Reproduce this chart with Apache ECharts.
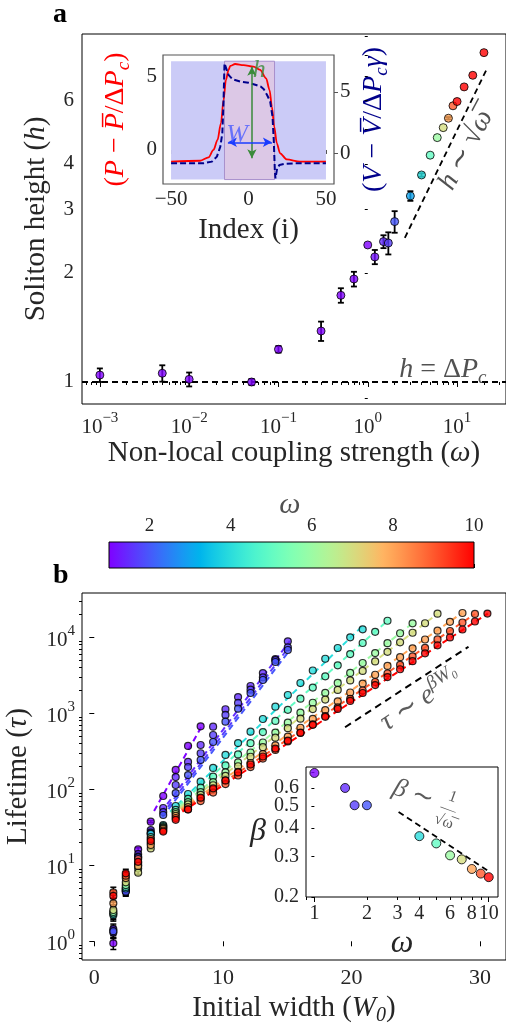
<!DOCTYPE html>
<html>
<head>
<meta charset="utf-8">
<script src="https://cdn.jsdelivr.net/npm/echarts@6.0.0/dist/echarts.min.js"></script>
<style>
html,body{margin:0;padding:0;background:#ffffff;}
#chart{width:506px;height:1023px;}
</style>
</head>
<body>
<div id="chart"></div>
<script>
// ================= Panel a : soliton height vs non-local coupling =================
const omegaA    = [0.001,0.005,0.01,0.05,0.1,0.3,0.5,0.7,1,1.2,1.5,1.7,2,3,4,5,6,7,8,9,10,12,15,20];
const heightA   = [1.045,1.057,1.017,1.0,1.231,1.383,1.735,1.925,2.39,2.215,2.442,2.42,2.773,3.264,3.73,4.23,4.73,5.04,5.35,5.79,5.95,6.53,7.03,8.12];
const heightErrA= [0.045,0.055,0.045,0.02,0.026,0.085,0.08,0.09,0,0.1,0.1,0.17,0.19,0.1,0.04,0,0,0,0.04,0,0,0,0,0];
const deltaPcLevel    = 1;
const sqrtGuideOmega  = [2.6, 22];
const sqrtGuideHeight = [2.5, 7.4];
const xTickExpA   = [-3,-2,-1,0,1];
const yTickLabelsA= [1,2,3,4,6];

// ---- inset of panel a : soliton profile ----
const insetIndexP = [-50,-31.2,-25.8,-22.6,-20.0,-17.8,-16.1,-14.6,-12.9,-11.8,-8.6,-3.2,3.2,7.5,11.4,13.6,15.1,16.6,18.3,20.4,24.7,33.3,50];
const insetP      = [-0.79,-0.73,-0.50,0.0,0.68,1.80,3.38,4.73,5.41,5.68,5.81,5.74,5.63,5.41,4.84,4.05,2.93,1.58,0.45,-0.23,-0.64,-0.79,-0.79];
const insetIndexV = [-50,-29.0,-23.6,-20.4,-18.2,-16.9,-16.1,-15.5,-14.4,-12.9,-10.3,-5.3,0,4.9,7.9,9.9,12.0,14.0,15.5,16.3,17.0,17.4,18.5,20.0,23.0,30.1,50];
const insetV      = [-0.81,-0.81,-0.68,-0.27,0.54,1.62,4.33,7.31,6.91,6.37,6.02,5.83,5.74,5.55,5.42,5.2,4.74,4.2,2.98,1.08,-1.36,-2.04,-1.22,-0.95,-0.87,-0.81,-0.81];
const insetShadeIndex = [-50, 50];
const insetShadeLevel = [-2, 6];
const solitonEdges    = [-15.5, 16.8];
const heightArrow = {index:2.2, top:5.63, bottom:-0.56};
const widthArrow  = {level:0.52, left:-13.3, right:15.1};
const insetXTicks = [-50,0,50];
const insetYTicks = [0,5];

// ================= colour bar =================
const colorbarRange = [1,10];
const colorbarTicks = [2,4,6,8,10];

// ================= Panel b : lifetime vs initial width =================
const widthW0 = [1.48,2.45,3.41,4.39,5.36,6.33,7.29,8.27,9.24,10.2,11.18,12.15,13.11,14.08,15.05,16.03,16.99,17.96,18.93,19.9,20.87,21.84,22.8,23.78,24.75,25.72,26.69,27.66,28.63,29.6,30.57];
const omegaB = [1,1.5,1.7,2,4,5,6,7,8,9,10];
const tauOmega1   = [0.94,4.6,16.2,37.5,81.6,180,372,675];
const tauOmega1p5 = [1.44,4.9,14.0,29.1,56.8,145,229,383,667,1130,1637,2286,3388,5176,8850];
const tauOmega1p7 = [1.31,4.7,13.0,26.9,50.2,114,196,298,518,951,1368,2046,2979,5023,7380];
const tauOmega2   = [1.36,4.5,12.7,26.0,45.9,89.3,154,243,419,775,1151,1849,2742,4732,6810];
const tauOmega4   = [2.22,4.95,10.7,25.8,33.9,60.3,86.7,126,191,283,406,573,841,1222,1742,2506,3656,5224,7228,10000,12740];
const tauOmega5   = [2.32,5.2,10.1,23.5,32.9,53.5,74.8,105,147,206,288,405,566,794,1112,1560,2183,3062,4285,6012,8414,11800,16520];
const tauOmega6   = [2.43,5.5,9.1,19.6,31.9,50.2,67.9,91.8,124,167,226,305,413,558,753,1019,1377,1858,2512,3396,4592,6194,8375,11300,15280];
const tauOmega7   = [2.58,5.97,8.0,16.7,31.0,47.3,63.2,84.3,113,150,201,268,358,478,638,851,1138,1517,2028,2704,3614,4819,6442,8590,11480,15310,20460];
const tauOmega8   = [3.16,6.8,9.8,18.5,30.1,44.6,58.2,76.0,99.3,130,170,222,290,378,494,646,843,1102,1439,1879,2460,3214,4198,5483,7161,9354,12240,16000,20890];
const tauOmega9   = [4.4,7.3,12.1,22.2,28.7,41.9,54.2,70.1,90.7,117,152,196,254,329,426,551,713,922,1194,1545,1995,2582,3342,4325,5598,7244,9376,12110,15670,20280];
const tauOmega10  = [3.95,7.85,11.1,20.9,27.8,39.7,54.6,77.5,103,131,167,212,270,343,436,556,706,899,1143,1456,1850,2350,2994,3802,4849,6155,7850,9970,12670,16140,20500];
const tauErrFrac  = [0.17,0.13,0.05,0.03];
const fitStartW0  = [4.65,5.2,5.25,5.3,5.9,5.95,6.0,6.05,6.1,6.15,6.2];
const fitStartTau = [52,50,46,43,50.7,50.3,48.8,47.3,45.9,44.5,43.2];
const fitEndW0    = [8.4,15.2,15.2,15.2,20.8,22.8,24.75,26.7,28.6,29.6,30.6];
const fitEndTau   = [700,8940,7690,6800,13780,16530,15290,20450,20890,20260,20500];
const expGuideW0  = [19.5, 29.1];
const expGuideTau = [655, 7520];
const xTicksB     = [0,10,20,30];
const yTickExpB   = [0,1,2,3,4];

// ---- inset of panel b : decay rate ----
const omegaInset = [1,1.5,1.7,2,4,5,6,7,8,9,10];
const betaInset  = [0.698,0.60,0.504,0.504,0.369,0.343,0.304,0.292,0.265,0.253,0.244];
const betaGuideOmega = [3.04, 10];
const betaGuideBeta  = [0.471, 0.259];
const insetXTickLabelsB = [1,2,3,4,6,8,10];
const insetYTickLabelsB = [0.2,0.3,0.4,0.5,0.6];

// ---- annotation anchors (data coordinates) ----
const noteDeltaPc = [6.93, 1.08];     // (omega, h)
const noteSqrt    = [12.6, 4.37];     // (omega, h)
const noteExp     = [25.4, 1496];     // (W0, tau)
const noteBetaA   = [3.69, 0.563];    // (omega, beta)
const noteBetaB   = [5.86, 0.484];
const noteInsetH  = [6.9, 5.4];       // (index, P)
const noteInsetW  = [-7.3, 1.0];
const noteColorbar= [5.46, 2.42];     // (omega, bar fraction)

// ================= helpers =================
const L = Math.log10;
const FONT = "'Liberation Serif', serif";
const TXT = '#262626';
function rainbow(t){
  t = Math.max(0, Math.min(1, t));
  const r = Math.min(1, Math.abs(2*t - 0.5)), g = Math.sin(Math.PI*t), b = Math.cos(Math.PI*t/2);
  return 'rgb(' + Math.round(r*255) + ',' + Math.round(g*255) + ',' + Math.round(b*255) + ')';
}
const omegaColor = w => rainbow((w - colorbarRange[0]) / (colorbarRange[1] - colorbarRange[0]));
function powLabel(v){ const e = Math.round(v); return '{b|10}{s|' + (e < 0 ? '\u2212' + (-e) : e) + '}'; }
function powRich(fs){
  return {
    b:{fontFamily:FONT, fontSize:fs, color:TXT, lineHeight:fs+6, verticalAlign:'bottom'},
    s:{fontFamily:FONT, fontSize:Math.round(fs*0.7), color:TXT, lineHeight:Math.round(fs*0.7), verticalAlign:'top'}
  };
}
function mathRich(fs, color){
  return {
    i:{fontFamily:FONT, fontSize:fs, color:color, fontStyle:'italic', lineHeight:Math.round(fs*1.25)},
    r:{fontFamily:FONT, fontSize:fs, color:color, lineHeight:Math.round(fs*1.25)},
    s:{fontFamily:FONT, fontSize:Math.round(fs*0.68), color:color, fontStyle:'italic', verticalAlign:'bottom', lineHeight:Math.round(fs*0.6)},
    u:{fontFamily:FONT, fontSize:Math.round(fs*0.68), color:color, fontStyle:'italic', verticalAlign:'top', lineHeight:Math.round(fs*0.6)},
    n:{fontFamily:FONT, fontSize:Math.round(fs*0.6), color:color, lineHeight:Math.round(fs*0.5)}
  };
}
function logMinor(lo, hi, mults){
  const out = [];
  for (let k = -5; k <= 5; k++) for (const m of mults){ const v = L(m*Math.pow(10,k)); if (v > lo && v < hi) out.push(v); }
  return out;
}
function errBar(capHalf, width){
  return function(params, api){
    const x = api.value(0), a = api.coord([x, api.value(1)]), b = api.coord([x, api.value(2)]);
    const st = {stroke:'#000', lineWidth:width};
    return {type:'group', children:[
      {type:'line', shape:{x1:a[0], y1:a[1], x2:b[0], y2:b[1]}, style:st},
      {type:'line', shape:{x1:a[0]-capHalf, y1:a[1], x2:a[0]+capHalf, y2:a[1]}, style:st},
      {type:'line', shape:{x1:b[0]-capHalf, y1:b[1], x2:b[0]+capHalf, y2:b[1]}, style:st}
    ]};
  };
}
function rectItem(fill, stroke){
  return function(params, api){
    const a = api.coord([api.value(0), api.value(1)]), b = api.coord([api.value(2), api.value(3)]);
    return {type:'rect', shape:{x:a[0], y:b[1], width:b[0]-a[0], height:a[1]-b[1]},
            style:{fill:fill, stroke:stroke || null, lineWidth:1}};
  };
}
function textMark(xi, yi, pt, text, fs, color, rotate){
  return {type:'scatter', xAxisIndex:xi, yAxisIndex:yi, symbolSize:1, silent:true, z:6,
    itemStyle:{color:'transparent'}, data:[pt],
    label:{show:true, position:'inside', formatter:text, rotate:rotate || 0,
      fontFamily:FONT, fontSize:fs, color:color, lineHeight:Math.round(fs*1.25), rich:mathRich(fs, color)}};
}
const tickStyle = {color:'#000', width:1};
function lab(o){ return Object.assign({show:true, showMinLabel:true, showMaxLabel:true, hideOverlap:false}, o); }
function baseAxis(o){
  return Object.assign({type:'value', splitLine:{show:false}, axisLine:{show:false},
    axisTick:{show:false}, axisLabel:{show:false}, offset:0}, o);
}

// ranges
const A_X = [-3.2, 1.548], A_Y = [-0.0608, 0.961];
const B_X = [-0.956, 32.015], B_Y = [-0.246, 4.583];
const IA_X = [-55.2, 55.2], IA_YL = [-2.3, 6.42], IA_YR = [-2.5, 7.99];
const IB_X = [-0.0482, 1.0531], IB_Y = [L(0.2) - 0.0005, -0.130];

const tauSeries = [tauOmega1,tauOmega1p5,tauOmega1p7,tauOmega2,tauOmega4,tauOmega5,tauOmega6,tauOmega7,tauOmega8,tauOmega9,tauOmega10];

// ================= axes =================
const xAxes = [
  // 0: panel a major
  baseAxis({gridIndex:0, position:'bottom', min:A_X[0], max:A_X[1],
    axisTick:{show:true, customValues:xTickExpA, length:5, lineStyle:tickStyle},
    axisLabel:lab({customValues:xTickExpA, formatter:powLabel, rich:powRich(21), margin:7}),
    name:'Non-local coupling strength ({i|\u03c9})', nameLocation:'middle', nameGap:30,
    nameTextStyle:{fontFamily:FONT, fontSize:29, color:TXT, rich:mathRich(29, TXT)}}),
  // 1: panel a minor
  baseAxis({gridIndex:0, position:'bottom', min:A_X[0], max:A_X[1],
    axisTick:{show:true, customValues:logMinor(A_X[0], A_X[1], [2,3,4,5,6,7,8,9]), length:3, lineStyle:tickStyle}}),
  // 2: inset a
  baseAxis({gridIndex:1, position:'bottom', min:IA_X[0], max:IA_X[1],
    axisTick:{show:true, customValues:insetXTicks, length:4, lineStyle:{color:'#555'}},
    axisLabel:lab({customValues:insetXTicks, margin:5, fontFamily:FONT, fontSize:21, color:TXT,
      formatter:v => (v < 0 ? '\u2212' + (-v) : '' + v)}),
    name:'Index (i)', nameLocation:'middle', nameGap:32,
    nameTextStyle:{fontFamily:FONT, fontSize:29, color:TXT}}),
  // 3: colour bar
  baseAxis({gridIndex:2, position:'top', min:colorbarRange[0], max:colorbarRange[1],
    axisTick:{show:true, customValues:colorbarTicks, length:4, lineStyle:tickStyle},
    axisLabel:lab({customValues:colorbarTicks, margin:6, fontFamily:FONT, fontSize:19, color:TXT})}),
  // 4: panel b
  baseAxis({gridIndex:3, position:'bottom', min:B_X[0], max:B_X[1],
    axisTick:{show:true, customValues:xTicksB, length:5, lineStyle:tickStyle},
    axisLabel:lab({customValues:xTicksB, margin:7, fontFamily:FONT, fontSize:22, color:TXT}),
    name:'Initial width ({i|W}{s|0})', nameLocation:'middle', nameGap:30,
    nameTextStyle:{fontFamily:FONT, fontSize:29, color:TXT, rich:mathRich(29, TXT)}}),
  // 5: inset b major
  baseAxis({gridIndex:4, position:'bottom', min:IB_X[0], max:IB_X[1],
    axisTick:{show:true, customValues:[0,1], length:5, lineStyle:tickStyle},
    axisLabel:lab({customValues:insetXTickLabelsB.map(L), margin:7, fontFamily:FONT, fontSize:20, color:TXT,
      formatter:v => '' + Math.round(Math.pow(10, v))}),
    name:'{i|\u03c9}', nameLocation:'middle', nameGap:27,
    nameTextStyle:{fontFamily:FONT, fontSize:32, color:TXT, rich:mathRich(32, TXT)}}),
  // 6: inset b minor
  baseAxis({gridIndex:4, position:'bottom', min:IB_X[0], max:IB_X[1],
    axisTick:{show:true, customValues:logMinor(IB_X[0], IB_X[1], [2,3,4,5,6,7,8,9]), length:3, lineStyle:tickStyle}})
];
const betaLabelFmt = v => Math.pow(10, v).toFixed(1);
const yAxes = [
  // 0: panel a major
  baseAxis({gridIndex:0, position:'left', min:A_Y[0], max:A_Y[1],
    axisTick:{show:true, customValues:[0], length:5, lineStyle:tickStyle},
    axisLabel:lab({customValues:yTickLabelsA.map(L), margin:8, fontFamily:FONT, fontSize:21, color:TXT,
      formatter:v => '' + Math.round(Math.pow(10, v))}),
    name:'Soliton height ({i|h})', nameLocation:'middle', nameGap:28, nameRotate:90,
    nameTextStyle:{fontFamily:FONT, fontSize:29, color:TXT, rich:mathRich(29, TXT)}}),
  // 1: panel a minor
  baseAxis({gridIndex:0, position:'left', min:A_Y[0], max:A_Y[1],
    axisTick:{show:true, customValues:logMinor(A_Y[0], A_Y[1], [2,3,4,5,6,7,8,9]), length:3, lineStyle:tickStyle}}),
  // 2: inset a left
  baseAxis({gridIndex:1, position:'left', min:IA_YL[0], max:IA_YL[1],
    axisTick:{show:true, customValues:insetYTicks, length:4, lineStyle:{color:'#555'}},
    axisLabel:lab({customValues:insetYTicks, margin:6, fontFamily:FONT, fontSize:21, color:TXT}),
    name:'({i|P} \u2212 {i|P\u0305}/\u0394{i|P}{s|c})', nameLocation:'middle', nameGap:30, nameRotate:90,
    nameTextStyle:{fontFamily:FONT, fontSize:28, color:'#ff0000', rich:mathRich(28, '#ff0000')}}),
  // 3: inset a right
  baseAxis({gridIndex:1, position:'right', min:IA_YR[0], max:IA_YR[1],
    axisTick:{show:true, customValues:insetYTicks, length:4, lineStyle:{color:'#555'}},
    axisLabel:lab({customValues:insetYTicks, margin:6, fontFamily:FONT, fontSize:21, color:TXT}),
    name:'({i|V} \u2212 {i|V\u0305}/\u0394{i|P}{s|c}{i|\u03b3})', nameLocation:'middle', nameGap:22, nameRotate:90,
    nameTextStyle:{fontFamily:FONT, fontSize:28, color:'#00008b', rich:mathRich(28, '#00008b')}}),
  // 4: colour bar
  baseAxis({gridIndex:2, position:'left', min:0, max:1}),
  // 5: panel b major
  baseAxis({gridIndex:3, position:'left', min:B_Y[0], max:B_Y[1],
    axisTick:{show:true, customValues:yTickExpB, length:5, lineStyle:tickStyle},
    axisLabel:lab({customValues:yTickExpB, formatter:powLabel, rich:powRich(21), margin:7}),
    name:'Lifetime ({i|\u03c4})', nameLocation:'middle', nameGap:46, nameRotate:90,
    nameTextStyle:{fontFamily:FONT, fontSize:29, color:TXT, rich:mathRich(29, TXT)}}),
  // 6: panel b minor
  baseAxis({gridIndex:3, position:'left', min:B_Y[0], max:B_Y[1],
    axisTick:{show:true, customValues:logMinor(B_Y[0], B_Y[1], [2,3,4,5,6,7,8,9]), length:3, lineStyle:tickStyle}}),
  // 7: inset b (ticks, alternate labels, axis name)
  baseAxis({gridIndex:4, position:'left', min:IB_Y[0], max:IB_Y[1],
    axisTick:{show:true, customValues:[0.2,0.3,0.4,0.5,0.6,0.7].map(L), length:3, lineStyle:tickStyle},
    axisLabel:lab({customValues:insetYTickLabelsB.filter((v,i) => i % 2 === 0).map(L), margin:7, fontFamily:FONT, fontSize:20, color:TXT,
      formatter:betaLabelFmt}),
    name:'{i|\u03b2}', nameLocation:'middle', nameGap:40, nameRotate:0,
    nameTextStyle:{fontFamily:FONT, fontSize:32, color:TXT, rich:mathRich(32, TXT)}}),
  // 8: inset b (remaining labels)
  baseAxis({gridIndex:4, position:'left', min:IB_Y[0], max:IB_Y[1],
    axisLabel:lab({customValues:insetYTickLabelsB.filter((v,i) => i % 2 === 1).map(L), margin:7, fontFamily:FONT, fontSize:20, color:TXT,
      formatter:betaLabelFmt})})
];

// ================= series =================
const series = [];
// --- panel a ---
series.push({type:'line', xAxisIndex:0, yAxisIndex:0, silent:true, showSymbol:false, z:2,
  data:[[A_X[0], L(deltaPcLevel)], [A_X[1], L(deltaPcLevel)]],
  lineStyle:{color:'#000', width:1.8, type:[6,4]}});
series.push({type:'line', xAxisIndex:0, yAxisIndex:0, silent:true, showSymbol:false, z:2,
  data:sqrtGuideOmega.map((w,i) => [L(w), L(sqrtGuideHeight[i])]),
  lineStyle:{color:'#000', width:1.8, type:[6,4]}});
series.push({type:'custom', xAxisIndex:0, yAxisIndex:0, silent:true, z:3, renderItem:errBar(3, 1.8),
  encode:{x:0, y:[1,2]},
  data:omegaA.map((w,i) => [L(w), L(heightA[i]-heightErrA[i]), L(heightA[i]+heightErrA[i])]).filter((d,i) => heightErrA[i] > 0)});
series.push({type:'scatter', xAxisIndex:0, yAxisIndex:0, silent:true, z:4, symbolSize:8,
  data:omegaA.map((w,i) => ({value:[L(w), L(heightA[i])], itemStyle:{color:omegaColor(w)}})),
  itemStyle:{borderColor:'#000', borderWidth:1}});
series.push(textMark(0, 0, [L(noteDeltaPc[0]), L(noteDeltaPc[1])], '{i|h} = \u0394{i|P}{s|c}', 28, TXT, 0));
series.push(textMark(0, 0, [L(noteSqrt[0]), L(noteSqrt[1])], '{i|h} \u223c \u221a{i|\u03c9\u0305}', 28, TXT, 62));

// --- inset a ---
series.push({type:'custom', xAxisIndex:2, yAxisIndex:2, silent:true, z:1, renderItem:rectItem('#cbcbf7'),
  data:[[insetShadeIndex[0], insetShadeLevel[0], insetShadeIndex[1], insetShadeLevel[1]]]});
series.push({type:'custom', xAxisIndex:2, yAxisIndex:2, silent:true, z:1, renderItem:rectItem('#dcc8e6', '#a890cc'),
  data:[[solitonEdges[0], insetShadeLevel[0], solitonEdges[1], insetShadeLevel[1]]]});
series.push({type:'line', xAxisIndex:2, yAxisIndex:2, silent:true, showSymbol:false, z:3, smooth:0.3, smoothMonotone:'x',
  data:insetIndexP.map((x,i) => [x, insetP[i]]), lineStyle:{color:'#ff0000', width:1.8},
  markLine:{silent:true, symbol:['arrow','arrow'], symbolSize:[7,9], label:{show:false},
    data:[
      [{coord:[heightArrow.index, heightArrow.top], lineStyle:{color:'#3a8a3a', width:1.5, type:'solid'}}, {coord:[heightArrow.index, heightArrow.bottom]}],
      [{coord:[widthArrow.left, widthArrow.level], lineStyle:{color:'#1a3cff', width:1.5, type:'solid'}}, {coord:[widthArrow.right, widthArrow.level]}]
    ]}});
series.push({type:'line', xAxisIndex:2, yAxisIndex:3, silent:true, showSymbol:false, z:3,
  data:insetIndexV.map((x,i) => [x, insetV[i]]), lineStyle:{color:'#00008b', width:2, type:[6,3]}});
series.push(textMark(2, 2, noteInsetH, '{i|h}', 26, '#3a8a3a', 0));
series.push(textMark(2, 2, noteInsetW, '{i|W}', 26, '#4a5cff', 0));

// --- colour bar ---
series.push({type:'custom', xAxisIndex:3, yAxisIndex:4, silent:true, z:2,
  renderItem:function(params, api){
    const a = api.coord([api.value(0), 0]), b = api.coord([api.value(1), 1]);
    const stops = [];
    for (let i = 0; i <= 40; i++) stops.push({offset:i/40, color:rainbow(i/40)});
    return {type:'rect', shape:{x:a[0], y:b[1], width:b[0]-a[0], height:a[1]-b[1]},
      style:{fill:new echarts.graphic.LinearGradient(0,0,1,0,stops), stroke:'#000', lineWidth:1}};
  },
  data:[[colorbarRange[0], colorbarRange[1]]]});
series.push(Object.assign(textMark(3, 4, noteColorbar, '{i|\u03c9}', 30, TXT, 0), {clip:false}));

// --- panel b ---
omegaB.forEach((w,j) => {
  series.push({type:'line', xAxisIndex:4, yAxisIndex:5, silent:true, showSymbol:false, z:2,
    data:[[fitStartW0[j], L(fitStartTau[j])], [fitEndW0[j], L(fitEndTau[j])]],
    lineStyle:{color:omegaColor(w), width:2, type:[6,4]}});
});
const errB = [];
omegaB.forEach((w,j) => tauSeries[j].forEach((t,k) => {
  if (k < tauErrFrac.length) errB.push([widthW0[k], L(t*(1-tauErrFrac[k])), L(t*(1+tauErrFrac[k]))]);
}));
series.push({type:'custom', xAxisIndex:4, yAxisIndex:5, silent:true, z:3, renderItem:errBar(3, 1.5),
  encode:{x:0, y:[1,2]}, data:errB});
omegaB.forEach((w,j) => {
  series.push({type:'scatter', xAxisIndex:4, yAxisIndex:5, silent:true, z:4, symbolSize:7,
    data:tauSeries[j].map((t,k) => [widthW0[k], L(t)]),
    itemStyle:{color:omegaColor(w), borderColor:'#000', borderWidth:1.2}});
});
series.push({type:'line', xAxisIndex:4, yAxisIndex:5, silent:true, showSymbol:false, z:2,
  data:expGuideW0.map((x,i) => [x, L(expGuideTau[i])]), lineStyle:{color:'#000', width:2, type:[7,5]}});
series.push(textMark(4, 5, [noteExp[0], L(noteExp[1])], '{i|\u03c4} \u223c {i|e}{u|\u03b2W\u2080}', 28, '#333', 33));

// --- inset b ---
series.push({type:'line', xAxisIndex:5, yAxisIndex:7, silent:true, showSymbol:false, z:3,
  data:betaGuideOmega.map((w,i) => [L(w), L(betaGuideBeta[i])]), lineStyle:{color:'#000', width:1.8, type:[6,4]}});
series.push({type:'scatter', xAxisIndex:5, yAxisIndex:7, silent:true, z:4, symbolSize:9,
  data:omegaInset.map((w,i) => ({value:[L(w), L(betaInset[i])], itemStyle:{color:omegaColor(w)}})),
  itemStyle:{borderColor:'#000', borderWidth:1}});
series.push(textMark(5, 7, [L(noteBetaA[0]), L(noteBetaA[1])], '{i|\u03b2} \u223c', 26, '#333', -20));
series.push(textMark(5, 7, [L(noteBetaB[0]), L(noteBetaB[1])], '{n|1}\n{n|\u2015}\n{n|\u221a\u03c9\u0305}', 26, '#333', -20));

// ================= chart =================
const chart = echarts.init(document.getElementById('chart'), null, {renderer:'canvas'});
chart.setOption({
  animation:false,
  backgroundColor:'#ffffff',
  textStyle:{fontFamily:FONT},
  title:[
    {text:'a', left:53, top:1, padding:0, textStyle:{fontFamily:FONT, fontWeight:'bold', fontSize:28, color:'#000'}},
    {text:'b', left:53, top:562, padding:0, textStyle:{fontFamily:FONT, fontWeight:'bold', fontSize:28, color:'#000'}}
  ],
  grid:[
    {left:82, top:34, width:424, height:370, show:true, borderColor:'#000', borderWidth:1, backgroundColor:'transparent', outerBoundsMode:'none', containLabel:false},
    {left:163, top:55, width:171, height:129, show:true, borderColor:'#555', borderWidth:1.2, backgroundColor:'#ffffff', outerBoundsMode:'none', containLabel:false},
    {left:109, top:542, width:365, height:26, show:false, outerBoundsMode:'none', containLabel:false},
    {left:82, top:593, width:424, height:367, show:true, borderColor:'#000', borderWidth:1, backgroundColor:'transparent', outerBoundsMode:'none', containLabel:false},
    {left:306, top:767, width:192, height:130, show:true, borderColor:'#000', borderWidth:1, backgroundColor:'#ffffff', outerBoundsMode:'none', containLabel:false}
  ],
  xAxis:xAxes,
  yAxis:yAxes,
  series:series
});
</script>
</body>
</html>
